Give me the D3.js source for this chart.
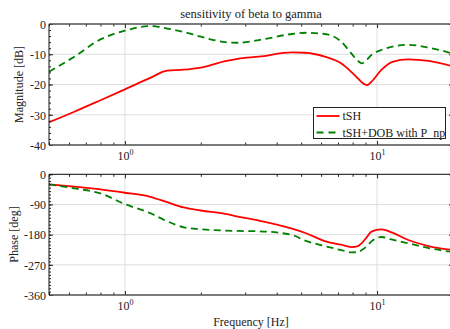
<!DOCTYPE html>
<html>
<head>
<meta charset="utf-8">
<script src="https://cdn.jsdelivr.net/npm/d3@7"></script>
<style>
  body { margin: 0; background: #fff; }
  svg text { font-family: "Liberation Serif", serif; fill: #222; }
  .grid line { stroke: #dedede; stroke-width: 1; }
  .axis path { display: none; }
  .axis line { stroke: #222; }
</style>
</head>
<body>
<svg id="chart" width="450" height="329"></svg>
<script>
// data
var freq = [0.5, 0.63, 0.8, 1, 1.26, 1.47, 1.71, 2, 2.5, 2.8, 3.4, 4.6, 5.2, 6.2, 7.2, 7.9, 8.4, 8.7, 9.1, 9.5, 10.4, 11.5, 13.3, 16, 20];
var magTSH = [-32.5, -29, -25.2, -21.6, -17.8, -15.4, -15.1, -14.4, -12.3, -11.5, -10.8, -9.4, -9.5, -10.8, -13, -15.8, -18, -19.3, -20.2, -19.1, -15.2, -12.5, -11.7, -12.2, -14];
var magDOB = [-15.8, -10.8, -5.1, -2.2, -0.7, -1.5, -2.6, -4.2, -6.0, -6.2, -5.3, -3.3, -2.9, -3.3, -5.8, -9.7, -12.2, -13, -11.9, -10.2, -8.6, -7.5, -6.9, -7.8, -9.8];
var phaseTSH = [-30, -37, -45, -55, -67, -83, -99, -108, -118, -126, -138, -162, -175, -199, -210, -217, -214, -205, -188, -171, -164, -174, -196, -214, -226];
var phaseDOB = [-30, -42, -57, -89, -116, -140, -158, -164, -168, -169, -170, -181, -198, -214, -226, -233, -232, -226, -215, -200, -187, -195, -206, -220, -232];
var seriesNames = ["tSH", "tSH+DOB with P_np"];
var xMajor = [1, 10];
var xMinor = [0.5, 0.6, 0.7, 0.8, 0.9, 2, 3, 4, 5, 6, 7, 8, 9, 20];
var magTicks = [-40, -30, -20, -10, 0];
var phaseTicks = [-360, -270, -180, -90, 0];

var svg = d3.select("#chart");

var x = d3.scaleLog()
  .domain([0.5, 20])
  .range([49, 124.7 + 252.3 * Math.log10(20)]);

var yMag = d3.scaleLinear().domain([-40, 0]).range([145, 24]);
var yPhase = d3.scaleLinear().domain([-360, 0]).range([295, 174.3]);

svg.append("defs").append("clipPath").attr("id", "clipTop")
  .append("rect").attr("x", 49).attr("y", 24).attr("width", 410).attr("height", 121);
svg.select("defs").append("clipPath").attr("id", "clipBot")
  .append("rect").attr("x", 49).attr("y", 174.3).attr("width", 410).attr("height", 120.7);

function drawPanel(y, majors, minorStep, clipId, a, b, showLegend) {
  var y0 = y.range()[0], y1 = y.range()[1];
  var xl = x.range()[0], xr = x.range()[1];
  var g = svg.append("g");

  // grid
  var grid = g.append("g").attr("class", "grid");
  grid.selectAll("line.h").data(majors).enter().append("line")
    .attr("x1", xl).attr("x2", xr)
    .attr("y1", function (d) { return y(d); })
    .attr("y2", function (d) { return y(d); });
  grid.selectAll("line.v").data(xMajor).enter().append("line")
    .attr("x1", function (d) { return x(d); })
    .attr("x2", function (d) { return x(d); })
    .attr("y1", y0).attr("y2", y1);

  // curves
  var line = function (vals) {
    return d3.line()
      .x(function (d, i) { return x(freq[i]); })
      .y(function (d) { return y(d); })
      .curve(d3.curveMonotoneX)(vals);
  };
  var lines = g.append("g").attr("clip-path", "url(#" + clipId + ")");
  lines.append("path").attr("d", line(a))
    .attr("fill", "none").attr("stroke", "#ff0000").attr("stroke-width", 1.8);
  lines.append("path").attr("d", line(b))
    .attr("fill", "none").attr("stroke", "#008000").attr("stroke-width", 1.8)
    .attr("stroke-dasharray", "7,4.5");

  // minor y ticks
  var minor = d3.range(y.domain()[0], y.domain()[1] + 0.001, minorStep);
  g.append("g").attr("class", "axis").attr("transform", "translate(" + xl + ",0)")
    .call(d3.axisLeft(y).tickValues(minor).tickSize(-2).tickFormat(""));
  g.append("g").attr("class", "axis").attr("transform", "translate(" + xr + ",0)")
    .call(d3.axisRight(y).tickValues(minor).tickSize(-2).tickFormat(""));

  // major y ticks, plain hyphen as minus
  g.append("g").attr("class", "axis").attr("transform", "translate(" + xl + ",0)")
    .call(d3.axisLeft(y).tickValues(majors).tickSize(-4).tickPadding(3)
      .tickFormat(function (d) { return String(d); }))
    .selectAll("text").style("font-size", "12px").attr("dy", "0.36em");
  g.append("g").attr("class", "axis").attr("transform", "translate(" + xr + ",0)")
    .call(d3.axisRight(y).tickValues(majors).tickSize(-4).tickFormat(""));

  // x ticks (bottom with labels, top without)
  g.append("g").attr("class", "axis").attr("transform", "translate(0," + y0 + ")")
    .call(d3.axisBottom(x).tickValues(xMinor).tickSize(-2.5).tickFormat(""));
  g.append("g").attr("class", "axis").attr("transform", "translate(0," + y1 + ")")
    .call(d3.axisTop(x).tickValues(xMinor).tickSize(-2.5).tickFormat(""));
  g.append("g").attr("class", "axis").attr("transform", "translate(0," + y1 + ")")
    .call(d3.axisTop(x).tickValues(xMajor).tickSize(-4).tickFormat(""));
  var xb = g.append("g").attr("class", "axis").attr("transform", "translate(0," + y0 + ")")
    .call(d3.axisBottom(x).tickValues(xMajor).tickSize(-4).tickFormat(""));
  xb.selectAll(".tick").append("text")
    .attr("y", 15).attr("text-anchor", "middle").style("font-size", "12px")
    .each(function (d) {
      var t = d3.select(this);
      t.append("tspan").text("10");
      t.append("tspan").attr("dy", -5).style("font-size", "8px").text(Math.round(Math.log10(d)));
    });

  // spines
  g.append("line").attr("x1", xl).attr("x2", xr).attr("y1", y1).attr("y2", y1)
    .attr("stroke", showLegend ? "#555" : "#111").attr("stroke-width", showLegend ? 1.6 : 1);
  g.append("line").attr("x1", xl).attr("x2", xr).attr("y1", y0).attr("y2", y0)
    .attr("stroke", "#555").attr("stroke-width", 1.6);
  g.append("line").attr("x1", xl).attr("x2", xl).attr("y1", y0).attr("y2", y1)
    .attr("stroke", "#111").attr("stroke-width", 1);
  g.append("line").attr("x1", xr).attr("x2", xr).attr("y1", y0).attr("y2", y1)
    .attr("stroke", "#111").attr("stroke-width", 1);

  if (showLegend) {
    var lg = g.append("g").attr("transform", "translate(313.5,107.5)");
    lg.append("rect").attr("width", 132).attr("height", 31)
      .attr("fill", "#fff").attr("stroke", "#222").attr("stroke-width", 1);
    seriesNames.forEach(function (name, i) {
      var cy = 8.5 + i * 16.5;
      lg.append("line").attr("x1", 3).attr("x2", 26).attr("y1", cy).attr("y2", cy)
        .attr("stroke", i ? "#008000" : "#ff0000").attr("stroke-width", 1.8)
        .attr("stroke-dasharray", i ? "7,5" : null);
      lg.append("text").attr("x", 29).attr("y", cy).attr("dy", "0.35em")
        .style("font-size", "12px").text(name);
    });
  }
}

drawPanel(yMag, magTicks, 2, "clipTop", magTSH, magDOB, true);
drawPanel(yPhase, phaseTicks, 10, "clipBot", phaseTSH, phaseDOB, false);

// titles and labels
svg.append("text").attr("x", 251).attr("y", 18).attr("text-anchor", "middle")
  .style("font-size", "12.5px").text("sensitivity of beta to gamma");
svg.append("text").attr("transform", "translate(23,84.5) rotate(-90)")
  .attr("text-anchor", "middle").style("font-size", "12px").text("Magnitude [dB]");
svg.append("text").attr("transform", "translate(18,234.5) rotate(-90)")
  .attr("text-anchor", "middle").style("font-size", "12px").text("Phase [deg]");
svg.append("text").attr("x", 251).attr("y", 326).attr("text-anchor", "middle")
  .style("font-size", "12px").text("Frequency [Hz]");
</script>
</body>
</html>
